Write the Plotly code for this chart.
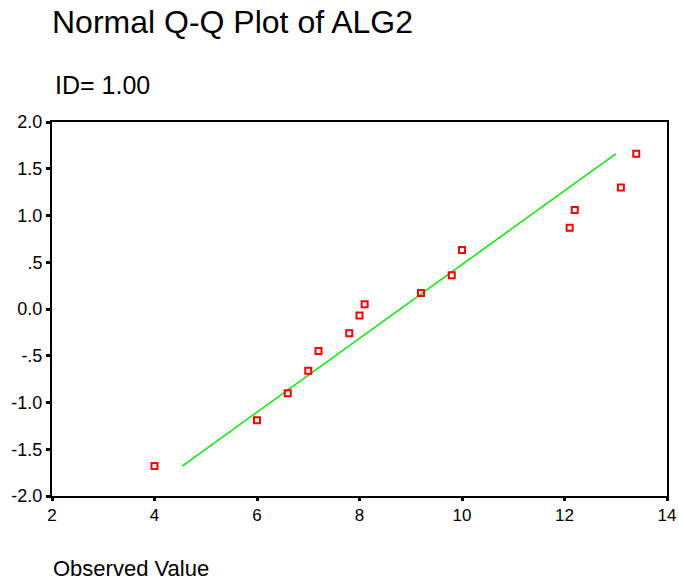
import plotly.graph_objects as go

# Observed values (x) and expected normal values (y)
observed = [4.0, 6.0, 6.6, 7.0, 7.2, 7.8, 8.0, 8.1, 9.2, 9.8, 10.0, 12.1, 12.2, 13.1, 13.4]
expected = [-1.68, -1.19, -0.90, -0.66, -0.45, -0.26, -0.07, 0.05, 0.17, 0.36, 0.63, 0.87, 1.06, 1.30, 1.66]

# Reference line end points
line_x = [4.54, 13.0]
line_y = [-1.68, 1.66]

x_ticks = [2, 4, 6, 8, 10, 12, 14]
y_ticks = [-2.0, -1.5, -1.0, -0.5, 0.0, 0.5, 1.0, 1.5, 2.0]
y_ticktext = ["-2.0", "-1.5", "-1.0", "-.5", "0.0", ".5", "1.0", "1.5", "2.0"]

FONT = "Liberation Sans, Arial, sans-serif"
W, H = 679, 580
# plot area in screen pixels: x 52..667, y 122..496
L, T = 52, 122
R = W - 667
B = H - 496
PW = W - L - R
PH = H - T - B

def px_x(px):
    return (px - L) / PW

def px_y(py):
    return (H - B - py) / PH

fig = go.Figure()
fig.add_trace(go.Scatter(x=line_x, y=line_y, mode="lines",
                         line=dict(color="#00ee00", width=1.5),
                         hoverinfo="skip", showlegend=False))
fig.add_trace(go.Scatter(x=observed, y=expected, mode="markers",
                         marker=dict(symbol="square-open", size=6, color="#ff0000",
                                     line=dict(width=2, color="#ff0000")),
                         showlegend=False))

fig.update_layout(
    width=W, height=H,
    margin=dict(l=L, r=R, t=T, b=B, pad=0, autoexpand=False),
    paper_bgcolor="white", plot_bgcolor="white",
    font=dict(family=FONT, color="black", size=17),
    xaxis=dict(range=[2, 14], tickvals=x_ticks, ticktext=[str(v) for v in x_ticks],
               showgrid=False, zeroline=False, showline=True, linecolor="black",
               linewidth=2, mirror=True, ticks="outside", ticklen=3, tickwidth=3,
               tickcolor="black", tickfont=dict(size=17, family=FONT), automargin=False),
    yaxis=dict(range=[-2, 2], tickvals=y_ticks, ticktext=y_ticktext,
               showgrid=False, zeroline=False, showline=True, linecolor="black",
               linewidth=2, mirror=True, ticks="outside", ticklen=4, tickwidth=3,
               tickcolor="black", tickfont=dict(size=18, family=FONT), automargin=False),
    annotations=[
        dict(text="Normal Q-Q Plot of ALG2", xref="paper", yref="paper",
             x=px_x(50), y=px_y(22), xanchor="left", yanchor="middle",
             showarrow=False, font=dict(size=32, family=FONT)),
        dict(text="ID= 1.00", xref="paper", yref="paper",
             x=px_x(53), y=px_y(85), xanchor="left", yanchor="middle",
             showarrow=False, font=dict(size=25, family=FONT)),
        dict(text="Observed Value", xref="paper", yref="paper",
             x=px_x(51), y=px_y(568), xanchor="left", yanchor="middle",
             showarrow=False, font=dict(size=22, family=FONT)),
    ],
)

fig.write_html("out.html", config={"displayModeBar": False},
               post_script="document.body.style.margin='0';")
